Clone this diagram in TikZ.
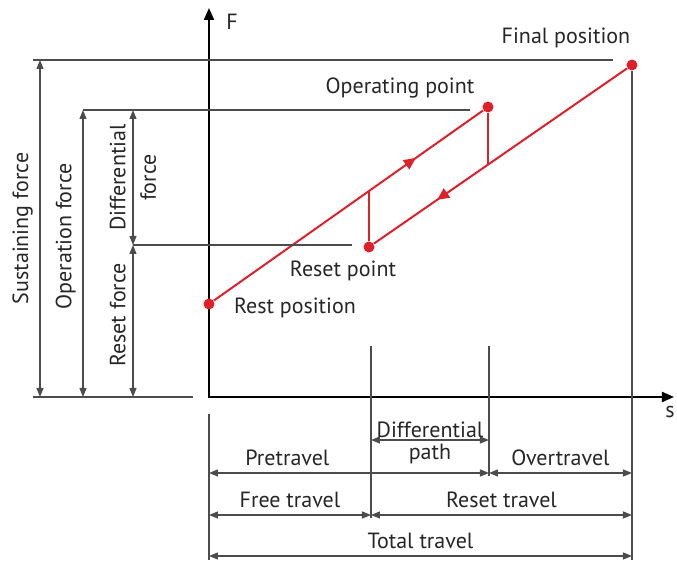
\documentclass[tikz,border=0pt]{standalone}
\usepackage{fontspec}
\setmainfont{PT Sans}
\usetikzlibrary{arrows.meta,decorations.markings}
\definecolor{curvered}{RGB}{222,32,42}

\begin{document}
\begin{tikzpicture}[
		x=0.5pt, y=-0.5pt,
		every node/.style={font=\fontsize{11}{12}\selectfont, text=black!85},
		dot/.style={circle, fill=curvered, inner sep=0pt, minimum size=5.5pt},
		axis/.style={draw=black, line width=1pt, {Triangle[length=6pt,width=5pt]}-{Triangle[length=6pt,width=5pt]}},
		dim/.style={draw=black!70, line width=0.6pt},
		dimarrow/.style={dim, {Triangle[length=4.5pt,width=3.5pt]}-{Triangle[length=4.5pt,width=3.5pt]}},
		redline/.style={draw=curvered, line width=1pt},
		midarrow/.style={postaction={decorate}, decoration={markings, mark=at position #1 with {\arrow{Triangle[length=6pt,width=5.5pt]}}}}
	]
  \useasboundingbox (0,0) rectangle (677,565);
  % axes
  \coordinate (f_top) at (209,8);
  \coordinate (o) at (209,397);
  \coordinate (s_end) at (674,397);
  \draw[axis] (f_top) -- (o) -- (s_end);
  \node (F) at (232,22) {F};
  \node (s) at (670,412) {s};
  % points on the curve
  \node (rest) [dot] at (209,304) {};
  \node (reset) [dot] at (369,247) {};
  \node (op) [dot] at (488,107) {};
  \node (final) [dot] at (632,65) {};
  \node (rest_label) at (295,308) {Rest position};
  \node (reset_label) at (343,271) {Reset point};
  \node (op_label) at (400,88) {Operating point};
  \node (final_label) at (566,38) {Final position};
  \coordinate (op_low) at (488,164);
  \coordinate (reset_up) at (369,191);
  \draw[redline, midarrow=0.75] (rest) -- (op);
  \draw[redline, midarrow=0.75] (final) -- (reset);
  \draw[redline] (op) -- (op_low);
  \draw[redline] (reset) -- (reset_up);
  % force levels
  \coordinate (sus_l) at (33,60);
  \coordinate (sus_r) at (613,60);
  \coordinate (opf_l) at (83,110);
  \coordinate (opf_r) at (470,110);
  \coordinate (rsf_l) at (133,245);
  \coordinate (rsf_r) at (352,245);
  \coordinate (base_l) at (33,397);
  \coordinate (base_r) at (193,397);
  \draw[dim] (sus_l) -- (sus_r);
  \draw[dim] (opf_l) -- (opf_r);
  \draw[dim] (rsf_l) -- (rsf_r);
  \draw[dim] (base_l) -- (base_r);
  \coordinate (sus_t) at (40,60);
  \coordinate (sus_b) at (40,397);
  \coordinate (opf_t) at (83,110);
  \coordinate (opf_b) at (83,397);
  \coordinate (dif_t) at (133,110);
  \coordinate (dif_b) at (133,245);
  \coordinate (rsf_b) at (133,397);
  \draw[dimarrow] (sus_t) -- (sus_b) node[pos=0.5, rotate=90, anchor=south] {Sustaining force};
  \draw[dimarrow] (opf_t) -- (opf_b) node[pos=0.44, rotate=90, anchor=south] {Operation force};
  \draw[dimarrow] (dif_t) -- (dif_b)
    node[pos=0.5, rotate=90, anchor=south] {Differential}
    node[pos=0.5, rotate=90, anchor=north] {force};
  \draw[dimarrow] (dif_b) -- (rsf_b) node[pos=0.46, rotate=90, anchor=south] {Reset force};
  % travel
  \coordinate (t0_t) at (209,414);
  \coordinate (t0_b) at (209,560);
  \coordinate (t1_t) at (371,346);
  \coordinate (t1_b) at (371,518);
  \coordinate (t2_t) at (489,346);
  \coordinate (t2_b) at (489,476);
  \coordinate (t3_b) at (632,560);
  \draw[dim] (t0_t) -- (t0_b);
  \draw[dim] (t1_t) -- (t1_b);
  \draw[dim] (t2_t) -- (t2_b);
  \draw[dim] (final) -- (t3_b);
  \coordinate (dp_l) at (371,440);
  \coordinate (dp_r) at (489,440);
  \coordinate (pre_l) at (209,473);
  \coordinate (pre_r) at (489,473);
  \coordinate (over_r) at (632,473);
  \coordinate (free_l) at (209,515);
  \coordinate (free_r) at (371,515);
  \coordinate (rst_r) at (632,515);
  \coordinate (tot_l) at (209,556);
  \coordinate (tot_r) at (632,556);
  \draw[dimarrow] (dp_l) -- (dp_r)
    node[midway, above, inner sep=1pt] {Differential}
    node[midway, below, inner sep=2pt] {path};
  \draw[dimarrow] (pre_l) -- (pre_r) node[pos=0.28, above] {Pretravel};
  \draw[dimarrow] (pre_r) -- (over_r) node[midway, above] {Overtravel};
  \draw[dimarrow] (free_l) -- (free_r) node[midway, above] {Free travel};
  \draw[dimarrow] (free_r) -- (rst_r) node[midway, above] {Reset travel};
  \draw[dimarrow] (tot_l) -- (tot_r) node[midway, above] {Total travel};
\end{tikzpicture}
\end{document}
